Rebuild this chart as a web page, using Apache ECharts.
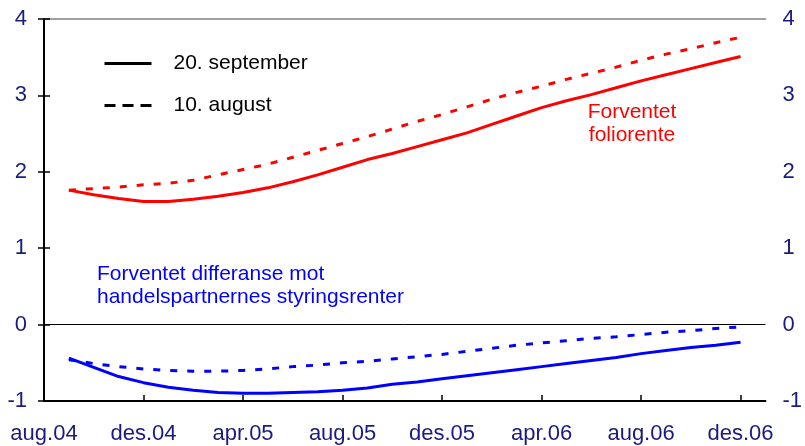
<!DOCTYPE html>
<html>
<head>
<meta charset="utf-8">
<script src="https://cdn.jsdelivr.net/npm/echarts@6/dist/echarts.min.js"></script>
<style>html,body{margin:0;padding:0;background:#fff}#c{width:805px;height:446px}</style>
</head>
<body>
<div id="c"></div>
<script>
// Month index: 0 = aug.04, 1 = sep.04, ... 28 = des.06
var tickLabels = ['aug.04','des.04','apr.05','aug.05','des.05','apr.06','aug.06','des.06'];
var months = [1,2,3,4,5,6,7,8,9,10,11,12,13,14,15,16,17,18,19,20,21,22,23,24,25,26,27,28];
var folioSep = [1.76,1.70,1.65,1.61,1.61,1.64,1.68,1.73,1.79,1.87,1.96,2.06,2.16,2.24,2.33,2.42,2.51,2.62,2.73,2.84,2.93,3.01,3.10,3.19,3.27,3.35,3.43,3.51];
var folioAug = [1.76,1.78,1.80,1.83,1.85,1.89,1.96,2.03,2.10,2.19,2.28,2.37,2.46,2.56,2.66,2.75,2.85,2.95,3.04,3.12,3.21,3.29,3.37,3.46,3.54,3.61,3.69,3.76];
var diffSep = [-0.44,-0.56,-0.68,-0.76,-0.82,-0.86,-0.89,-0.90,-0.90,-0.89,-0.88,-0.86,-0.83,-0.78,-0.75,-0.71,-0.67,-0.63,-0.59,-0.55,-0.51,-0.47,-0.43,-0.38,-0.34,-0.30,-0.27,-0.23];
var diffAug = [-0.46,-0.51,-0.55,-0.58,-0.60,-0.61,-0.61,-0.60,-0.58,-0.55,-0.53,-0.50,-0.48,-0.45,-0.42,-0.39,-0.35,-0.31,-0.27,-0.24,-0.21,-0.18,-0.16,-0.13,-0.10,-0.08,-0.05,-0.03];
var legendNames = ['20. september','10. august'];

function pairs(vals){ return months.map(function(m,i){ return [m, vals[i]]; }); }

var FONT = 'Liberation Sans, Arial, sans-serif';
var NAVY = '#1a1a80';
var DASH = [7, 10];

var chart = echarts.init(document.getElementById('c'), null, {renderer:'canvas'});
var yCommon = {
  type:'value', min:-1, max:4, interval:1,
  axisLine:{show:true, lineStyle:{color:'#000', width:2}},
  axisTick:{show:true, inside:true, length:6, lineStyle:{color:'#000', width:1.5}},
  axisLabel:{color:NAVY, fontFamily:FONT, fontSize:22, margin:17},
  splitLine:{show:false}
};
chart.setOption({
  animation:false,
  grid:{left:44, right:35, top:19, bottom:45, containLabel:false},
  xAxis:[{
    type:'value', min:0, max:29, interval:4, position:'bottom',
    axisLine:{show:true, onZero:false, lineStyle:{color:'#000', width:2}},
    axisTick:{show:true, inside:true, length:6, lineStyle:{color:'#000', width:1.5}},
    axisLabel:{color:NAVY, fontFamily:FONT, fontSize:22, margin:22, showMaxLabel:false,
      formatter:function(v){ return tickLabels[Math.round(v/4)] || ''; }},
    splitLine:{show:false}
  },{
    type:'value', min:0, max:29, position:'top',
    axisLine:{show:true, onZero:false, lineStyle:{color:'#808080', width:1.5}},
    axisTick:{show:false}, axisLabel:{show:false}, splitLine:{show:false}
  }],
  yAxis:[Object.assign({}, yCommon, {position:'left'}), Object.assign({}, yCommon, {position:'right'})],
  legend:{
    orient:'vertical', left:103, top:53, padding:0, itemGap:21,
    itemWidth:47, itemHeight:18,
    data:[
      {name:legendNames[0], lineStyle:{width:3, type:'solid', color:'#000'}},
      {name:legendNames[1], lineStyle:{width:3, type:[11,7], color:'#000'}}
    ],
    itemStyle:{color:'transparent', borderColor:'transparent', borderWidth:0, opacity:0},
    textStyle:{color:'#000', fontFamily:FONT, fontSize:21, padding:[0,0,0,17]}
  },
  series:[
    {name:legendNames[0], type:'line', data:[], symbol:'none', showSymbol:false, lineStyle:{color:'#000', width:3, type:'solid'}, itemStyle:{color:'#000'}},
    {name:legendNames[1], type:'line', data:[], symbol:'none', showSymbol:false, lineStyle:{color:'#000', width:3, type:[11,7]}, itemStyle:{color:'#000'}},
    {name:'folioAug', type:'line', data:pairs(folioAug), symbol:'none',
      lineStyle:{color:'#ff0000', width:3, type:DASH}},
    {name:'folioSep', type:'line', data:pairs(folioSep), symbol:'none',
      lineStyle:{color:'#ff0000', width:3}},
    {name:'diffAug', type:'line', data:pairs(diffAug), symbol:'none',
      lineStyle:{color:'#0000ff', width:3, type:DASH}},
    {name:'diffSep', type:'line', data:pairs(diffSep), symbol:'none',
      lineStyle:{color:'#0000ff', width:3},
      markLine:{silent:true, symbol:'none', label:{show:false},
        lineStyle:{color:'#000', width:1, type:'solid'}, data:[{yAxis:0}]}}
  ],
  graphic:[
    {type:'text', x:632, y:112, style:{text:'Forventet', fill:'#ff0000', font:'21px ' + FONT, align:'center', verticalAlign:'middle'}},
    {type:'text', x:632, y:135, style:{text:'foliorente', fill:'#ff0000', font:'21px ' + FONT, align:'center', verticalAlign:'middle'}},
    {type:'text', x:97, y:274, style:{text:'Forventet differanse mot', fill:'#0000ff', font:'21px ' + FONT, align:'left', verticalAlign:'middle'}},
    {type:'text', x:97, y:297, style:{text:'handelspartnernes styringsrenter', fill:'#0000ff', font:'21px ' + FONT, align:'left', verticalAlign:'middle'}}
  ]
});
</script>
</body>
</html>
